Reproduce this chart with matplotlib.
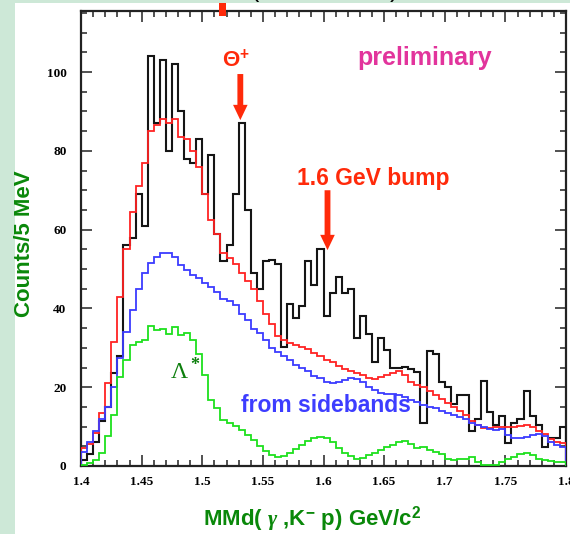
import numpy as np
import matplotlib
matplotlib.use('Agg')
import matplotlib.pyplot as plt
from matplotlib.ticker import MultipleLocator, FuncFormatter
from matplotlib.patches import Rectangle

# ---------------- data (counts per 5 MeV bin, 1.40 - 1.80 GeV) ----------------
bin_lo, bin_hi, n_bins = 1.40, 1.80, 80

data_black = [1.5, 3, 6, 11.5, 15, 23.5, 28, 56, 58, 69,
              61, 104, 87, 103, 80, 102, 90, 78, 77, 83,
              69, 79, 59, 52, 56, 69, 87, 65, 49, 45,
              52, 52.3, 51.4, 30.3, 41, 37.5, 40.5, 52, 46, 55,
              38, 44, 48, 44, 45, 32.4, 38, 33.5, 26.5, 32.4,
              29.4, 24.9, 24.9, 25.2, 24.5, 23.9, 11, 29.3, 28.4, 21.2,
              20.1, 15.7, 18, 18, 9, 11.9, 21.7, 13.8, 10.4, 12.8,
              5.9, 11, 11.9, 19.1, 12.8, 10.4, 4.9, 7, 7, 10]

fit_red = [4.5, 5.5, 8.5, 13.5, 21, 31.5, 43, 55, 64.6, 71,
           77, 85, 86.5, 88, 87, 88, 83.6, 83, 80, 76,
           69, 62.4, 59, 54, 52.7, 51.4, 49, 47, 45, 42,
           38.5, 36, 33, 32, 31.3, 30.8, 30.3, 29.7, 28.8, 27.8,
           27, 26.5, 25.3, 24.6, 24.2, 23.6, 23, 22.4, 22, 22.6,
           23.2, 23.7, 24.2, 23, 21.3, 20.6, 20, 19, 18, 17,
           16, 15, 14, 13, 11.5, 10.5, 9.6, 9.6, 9.8, 9.8,
           10, 10, 10.2, 10.4, 10, 9, 8, 6.8, 6.2, 5.8]

sideband_blue = [3.5, 6, 9, 12, 15, 20, 27.5, 34, 39.5, 45,
                 49, 51.6, 53, 54, 54, 53, 51, 49.7, 48.5, 47.6,
                 46.5, 45.5, 44.2, 42.3, 42, 40.9, 38.7, 37, 34.7, 33.7,
                 32, 30, 29, 28, 26.9, 25.6, 24.8, 24, 22.8, 22.3,
                 21.4, 21, 21.2, 21.8, 22.4, 22, 21.4, 20.1, 19.3, 18.6,
                 18.4, 18.3, 18, 17.4, 16.8, 16.2, 15.6, 15, 14.6, 14,
                 13.5, 13, 12.5, 12, 11, 10.3, 9.8, 9.3, 9.1, 9.3,
                 7.9, 7, 7, 7.4, 7.8, 8.1, 7.5, 6.2, 5.3, 4.9]

lambda_green = [0.3, 0.7, 1.5, 3.4, 7.5, 13, 22.7, 27, 30.7, 31.6,
                32, 35.6, 34.5, 34.7, 33.5, 35.3, 33.2, 33.7, 32, 28.4,
                23.1, 16.8, 14.6, 11.7, 10.8, 10.2, 9.1, 7.9, 6.5, 5,
                3.8, 2.8, 2.2, 2.6, 3.4, 4.3, 5.3, 6.3, 7.0, 7.4,
                7.2, 6.0, 4.6, 3.3, 2.5, 1.9, 2.1, 2.8, 3.4, 4.0,
                4.8, 5.4, 6.0, 6.3, 5.6, 4.5, 4.9, 4.1, 3.6, 3.0,
                1.9, 1.5, 1.9, 1.9, 2.2, 1.1, 0.3, 0.3, 0.3, 1.1,
                1.7, 2.4, 3.0, 3.2, 2.8, 1.9, 1.4, 1.3, 1.1, 1.1]

x_ticks = [1.4, 1.45, 1.5, 1.55, 1.6, 1.65, 1.7, 1.75, 1.8]
y_ticks = [0, 20, 40, 60, 80, 100]

# ---------------- styling ----------------
plt.rcParams['font.family'] = ['Liberation Sans', 'DejaVu Sans']
plt.rcParams['font.weight'] = 'bold'
plt.rcParams['mathtext.fontset'] = 'custom'
plt.rcParams['mathtext.rm'] = 'Liberation Sans:bold'
plt.rcParams['mathtext.bf'] = 'Liberation Sans:bold'
plt.rcParams['mathtext.sf'] = 'Liberation Sans:bold'
plt.rcParams['mathtext.it'] = 'Liberation Serif:italic'

W, H = 570, 534
def fx(p):
    return p / W
def fy(p):
    return 1 - p / H

fig = plt.figure(figsize=(W / 100, H / 100), dpi=100, facecolor='#cde8d7')
fig.add_artist(Rectangle((fx(14.5), 0), 1 - fx(14.5), fy(3), transform=fig.transFigure,
                         facecolor='white', edgecolor='none', zorder=-2))

ax = fig.add_axes([fx(81), fy(466), (566 - 81) / W, (466 - 11) / H])
ax.set_facecolor('white')

edges = np.linspace(bin_lo, bin_hi, n_bins + 1)
ax.stairs(data_black, edges, color='#151515', lw=1.5, zorder=3)
ax.stairs(fit_red, edges, color='#ff2323', lw=1.3, zorder=4)
ax.stairs(sideband_blue, edges, color='#3c3cff', lw=1.3, zorder=4)
ax.stairs(lambda_green, edges, color='#1ee01e', lw=1.3, zorder=4)

ax.set_xlim(bin_lo, bin_hi)
ax.set_ylim(0, 115.5)
ax.set_xticks(x_ticks)
ax.set_yticks(y_ticks)
ax.xaxis.set_minor_locator(MultipleLocator(0.01))
ax.yaxis.set_minor_locator(MultipleLocator(5))
ax.xaxis.set_major_formatter(FuncFormatter(lambda v, p: '%g' % v))
ax.yaxis.set_major_formatter(FuncFormatter(lambda v, p: '%d' % v))
ax.tick_params(which='both', direction='in', top=True, right=True, width=1.1,
               color='#222222', labelsize=9.5, labelfontfamily='Liberation Serif')
ax.tick_params(which='major', length=8)
ax.tick_params(which='minor', length=4)
ax.tick_params(axis='x', which='major', pad=7)
ax.tick_params(axis='y', which='major', pad=10.5)
for s in ax.spines.values():
    s.set_linewidth(1.6)
    s.set_color('#222222')

# axis titles
fig.text(fx(25), fy(244), 'Counts/5 MeV', rotation=90, ha='center', va='center',
         color='#0a880a', fontsize=16, fontweight='bold')
fig.text(fx(312), fy(519), r'MMd( $\gamma$ ,K$^{-}$ p) GeV/c$^{2}$', ha='center', va='center',
         color='#0a880a', fontsize=16, fontweight='bold')

# annotations
fig.text(fx(357), fy(65), 'preliminary', color='#e2349c', fontsize=18, fontweight='bold',
         ha='left', va='baseline')
fig.text(fx(297), fy(185), '1.6 GeV bump', color='#ff2a0a', fontsize=16.5, fontweight='bold',
         ha='left', va='baseline')
fig.text(fx(241), fy(412), 'from sidebands', color='#3d3dff', fontsize=16.5, fontweight='bold',
         ha='left', va='baseline')
fig.text(fx(222), fy(66), r'$\Theta^{+}$', color='#ff2a0a', fontsize=16,
         ha='left', va='baseline')
fig.text(fx(171), fy(378), 'Λ', color='#0d7f0d', fontsize=17, fontweight='normal',
         family='Liberation Serif', ha='left', va='baseline')
fig.text(fx(190), fy(370), '*', color='#0d7f0d', fontsize=13, fontweight='bold',
         family='Liberation Serif', ha='left', va='baseline')

arrow_style = 'simple,head_length=1.1,head_width=1.05,tail_width=0.42'
ax.annotate('', xy=(1.5314, 87.8), xytext=(1.5314, 99.5),
            arrowprops=dict(arrowstyle=arrow_style, mutation_scale=10, color='#ff2a0a',
                            shrinkA=0, shrinkB=0, lw=0), zorder=6)
ax.annotate('', xy=(1.6033, 54.8), xytext=(1.6033, 70.0),
            arrowprops=dict(arrowstyle=arrow_style, mutation_scale=10, color='#ff2a0a',
                            shrinkA=0, shrinkB=0, lw=0), zorder=6)

# slide remnants at the top edge
fig.add_artist(Rectangle((fx(219), fy(16)), 7 / W, 13 / H, transform=fig.transFigure,
                         facecolor='#ff2a0a', edgecolor='none', zorder=10))
fig.text(fx(250), fy(-3.5), '(', fontsize=18, fontweight='normal', color='black', va='baseline')
fig.text(fx(390), fy(-3.5), ')', fontsize=18, fontweight='normal', color='black', va='baseline')

fig.savefig('out.png', dpi=100, facecolor=fig.get_facecolor())
